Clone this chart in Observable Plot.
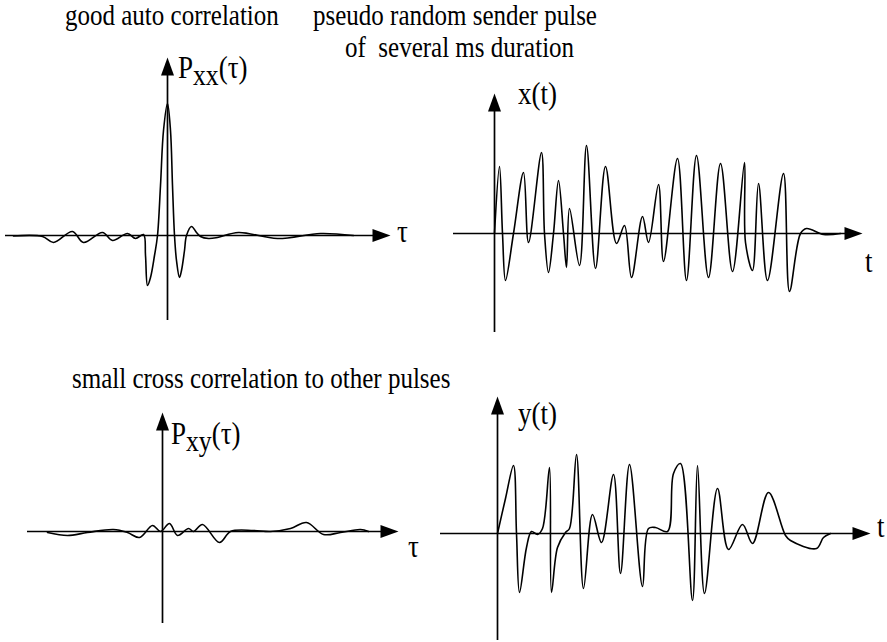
<!DOCTYPE html>
<html><head><meta charset="utf-8">
<script src="https://cdn.jsdelivr.net/npm/d3@7"></script>
<script src="https://cdn.jsdelivr.net/npm/@observablehq/plot@0.6"></script>
<style>
body{margin:0;background:#fff}
#page{position:relative;width:887px;height:642px;overflow:hidden;font-family:"Liberation Serif","Times New Roman",Times,"DejaVu Serif",serif;color:#000;background:#fff}
.lbl{position:absolute;white-space:pre;line-height:0.8em;transform:scaleY(1.15);}
.panel{position:absolute}
.sub{font-size:0.95em;position:relative;top:0.24em}
</style></head>
<body><div id="page"></div>
<script>
// ---- data (arbitrary units, origin at the axis crossing) ----
const autoTau = [-154,-125,-114,-95,-84,-65,-55,-40,-32,-24,-22,-20,-17,-13,-10,-7,-4,0,3,5,7,9,12,14,17,19,24,29,33,41,50,71,110,153,186];
const autoP   = [-0.5,-1,-7,4,-7,3,-5,2,-3,1,-20,-50,-42,-20,0,50,105,132,105,50,0,-25,-42,-35,-15,0,9,3,-1,-3,-2,3,-3,2,0];

const xT   = [0,5,8,11,19,29,34,47,50,54,59,64,69,72,75,85,92,101,111,122,130,137,148,154,164,169,183,192,202,214,226,238,250,251,258,264,273,289,295,306,312,329,346];
const xVal = [0,67,0,-47,0,61,-9,81,0,-39,0,53,0,-34,25,-32,88,-35,67,-10,8,-44,17,-9,49,-28,75,-47,78,-44,70,-38,71,-9,-37,50,-47,60,-58,0,5,-1,0];

const crossTau = [-115,-95,-75,-49,-35,-23,-10,-2,7,15,26,31,40,57,68,91,108,128,144,161,178,198,206];
const crossP   = [-1,-4,-1,2,-1,-6,6,0,8,-4,3,0,7,-11,0,1,0,3,9,-3,-1,2,0];

const yT   = [0,8,16,19,22,29,34,40,45,52,54,60,68,72,79,86,95,104,116,123,132,145,151,158,170,176,183,195,200,207,220,231,245,255,271,288,293,319,326,333];
const yVal = [0,35,68,0,-59,-14,2,-1,5,66,-59,-14,1,5,79,-55,19,-9,59,-40,69,-53,5,6,2,60,70,-67,68,-60,45,-16,9,-10,41,-2,-7,-15,-4,0];

// axis extents (data units)
const autoAxes  = {h:[-162,223], v:[-85,178]};
const xAxes     = {h:[-41,368],  v:[-99,140]};
const crossAxes = {h:[-135,236], v:[-92,119]};
const yAxes     = {h:[-57,373],  v:[-107,137]};

const titles = ["good auto correlation","pseudo random sender pulse","of  several ms duration","small cross correlation to other pulses"];

// ---- drawing ----
const page = document.getElementById("page");
const arrowHead = {draw(ctx){ctx.moveTo(0,0);ctx.lineTo(-6.5,18);ctx.lineTo(6.5,18);ctx.closePath();}};

function panel({left, top, xDomain, yDomain, t, v, axes}) {
  const data = t.map((d,i)=>({t:d, v:v[i]}));
  const chart = Plot.plot({
    width: xDomain[1]-xDomain[0], height: yDomain[1]-yDomain[0], margin:0,
    x:{domain:xDomain, axis:null}, y:{domain:yDomain, axis:null},
    style:{background:"transparent", overflow:"visible"},
    marks:[
      Plot.ruleY([0], {x1:axes.h[0], x2:axes.h[1]-6, stroke:"#000", strokeWidth:1.7}),
      Plot.ruleX([0], {y1:axes.v[0], y2:axes.v[1]-6, stroke:"#000", strokeWidth:1.7}),
      Plot.line(data, {x:"t", y:"v", curve:"catmull-rom", stroke:"#000", strokeWidth:1.6}),
      Plot.dot([[axes.h[1],0]], {x:d=>d[0], y:d=>d[1], symbol:arrowHead, fill:"#000", stroke:null, rotate:90}),
      Plot.dot([[0,axes.v[1]]], {x:d=>d[0], y:d=>d[1], symbol:arrowHead, fill:"#000", stroke:null, rotate:0})
    ]
  });
  chart.classList.add("panel");
  chart.style.left = left+"px"; chart.style.top = top+"px";
  page.appendChild(chart);
}

panel({left:0,   top:45,  xDomain:[-167,253], yDomain:[-95,190],  t:autoTau,  v:autoP,   axes:autoAxes});
panel({left:440, top:85,  xDomain:[-54,386],  yDomain:[-107,148], t:xT,       v:xVal,    axes:xAxes});
panel({left:0,   top:405, xDomain:[-162,258], yDomain:[-99,126],  t:crossTau, v:crossP,  axes:crossAxes});
panel({left:430, top:390, xDomain:[-67,383],  yDomain:[-109,143], t:yT,       v:yVal,    axes:yAxes});

function label(html, left, baseline, fs) {
  const d = document.createElement("div");
  const off = 0.7375*fs;
  d.className = "lbl"; d.innerHTML = html;
  d.style.fontSize = fs+"px";
  d.style.transformOrigin = `0 ${off}px`;
  d.style.left = left+"px"; d.style.top = (baseline-off)+"px";
  page.appendChild(d);
}
label(titles[0], 65, 25, 25);
label(titles[1], 313, 25, 25);
label(titles[2], 345, 57, 25);
label(titles[3], 72, 388, 25);
label('P<span class="sub">xx</span>(τ)', 178, 79, 27);
label('τ', 397, 243, 27);
label('x(t)', 518, 105, 27);
label('t', 865, 273, 27);
label('P<span class="sub">xy</span>(τ)', 171, 445, 27);
label('τ', 408, 558, 27);
label('y(t)', 518, 425, 27);
label('t', 877, 538, 27);
</script>
</body></html>
